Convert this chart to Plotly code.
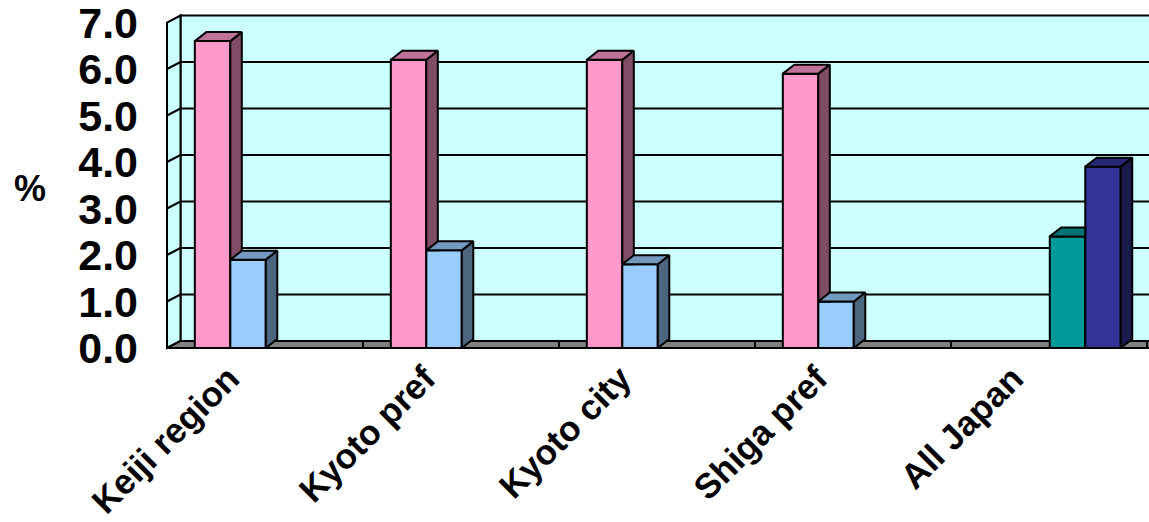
import plotly.graph_objects as go

# ---------------- data ----------------
categories = ["Keiji region", "Kyoto pref", "Kyoto city", "Shiga pref", "All Japan"]
series_names = ["Series 1", "Series 2", "Series 3", "Series 4"]
pink_vals = [6.6, 6.2, 6.2, 5.9, None]
blue_vals = [1.9, 2.1, 1.8, 1.0, None]
teal_vals = [None, None, None, None, 2.4]
navy_vals = [None, None, None, None, 3.9]
y_tick_vals = [0, 1, 2, 3, 4, 5, 6, 7]
y_tick_text = ["0.0", "1.0", "2.0", "3.0", "4.0", "5.0", "6.0", "7.0"]
y_title = "%"

series_vals = [pink_vals, blue_vals, teal_vals, navy_vals]

# ---------------- style ----------------
front_colors = ["#FF99CC", "#99CCFF", "#009999", "#333399"]
top_colors = ["#BF7399", "#7399BF", "#007373", "#262673"]
side_colors = ["#804D66", "#4D6680", "#004D4D", "#1A1A4D"]
wall_color = "#CCFFFF"
floor_color = "#808080"
edge = "black"
lw = 2

W, H = 1149, 522
ML, MR, MT, MB = 165, 0, 12, 172
PX_PER_CAT = 196.0
PX_PER_UNIT = 46.5
plot_w = W - ML - MR
plot_h = H - MT - MB
x_min = -0.5 - 2 / PX_PER_CAT
x_max = x_min + plot_w / PX_PER_CAT
y_min = -2 / PX_PER_UNIT
y_max = y_min + plot_h / PX_PER_UNIT

# depth offsets (data units)
dxw = 13.5 / PX_PER_CAT
dyw = 7.0 / PX_PER_UNIT
dxb = 11.5 / PX_PER_CAT
dyb = 9.0 / PX_PER_UNIT

bar_w = 0.181
first_off = -0.358
n_series = len(series_vals)

fig = go.Figure()

# ---------------- walls / floor / grid (shapes below traces) ----------------
shapes = []
x_left = -0.5
x_far = x_max + 1
top_v = y_tick_vals[-1]
# back wall
shapes.append(dict(type="rect", xref="x", yref="y", layer="below",
                   x0=x_left + dxw, y0=dyw, x1=x_far, y1=top_v + dyw,
                   fillcolor=wall_color, line=dict(color=edge, width=lw)))
# left wall
shapes.append(dict(type="path", xref="x", yref="y", layer="below",
                   path=f"M {x_left},0 L {x_left + dxw},{dyw} L {x_left + dxw},{top_v + dyw} L {x_left},{top_v} Z",
                   fillcolor=wall_color, line=dict(color=edge, width=lw)))
# floor
shapes.append(dict(type="path", xref="x", yref="y", layer="below",
                   path=f"M {x_left},0 L {x_far},0 L {x_far},{dyw} L {x_left + dxw},{dyw} Z",
                   fillcolor=floor_color, line=dict(color=edge, width=lw)))
# gridlines on back wall and left wall
for v in y_tick_vals[1:-1]:
    shapes.append(dict(type="line", xref="x", yref="y", layer="below",
                       x0=x_left + dxw, y0=v + dyw, x1=x_far, y1=v + dyw,
                       line=dict(color=edge, width=lw)))
    shapes.append(dict(type="line", xref="x", yref="y", layer="below",
                       x0=x_left, y0=v, x1=x_left + dxw, y1=v + dyw,
                       line=dict(color=edge, width=lw)))
# category boundary ticks on floor
for i in range(1, len(categories) + 1):
    xb = -0.5 + i
    shapes.append(dict(type="line", xref="x", yref="y", layer="below",
                       x0=xb, y0=0, x1=xb, y1=dyw,
                       line=dict(color=edge, width=lw)))

# ---------------- front faces (bars) ----------------
xs = list(range(len(categories)))
for k, vals in enumerate(series_vals):
    fig.add_trace(go.Bar(
        x=xs, y=vals, name=series_names[k],
        offset=first_off + k * bar_w, width=bar_w,
        marker=dict(color=front_colors[k], line=dict(color=edge, width=lw)),
        showlegend=False, hoverinfo="skip"))

# ---------------- top and side faces ----------------
def poly(pts, color):
    px = [p[0] for p in pts] + [pts[0][0]]
    py = [p[1] for p in pts] + [pts[0][1]]
    fig.add_trace(go.Scatter(x=px, y=py, mode="lines", fill="toself",
                             fillcolor=color, line=dict(color=edge, width=lw),
                             showlegend=False, hoverinfo="skip"))

for k, vals in enumerate(series_vals):
    for i, h in enumerate(vals):
        if h is None:
            continue
        xl = i + first_off + k * bar_w
        xr = xl + bar_w
        hn = series_vals[k + 1][i] if k + 1 < n_series else None
        # side face
        if hn is None:
            poly([(xr, 0), (xr + dxb, dyb), (xr + dxb, h + dyb), (xr, h)], side_colors[k])
        elif hn < h:
            poly([(xr, hn), (xr + dxb, hn), (xr + dxb, h + dyb), (xr, h)], side_colors[k])
        # top face
        if hn is not None and hn >= h + dyb:
            poly([(xl, h), (xr, h), (xr, h + dyb), (xl + dxb, h + dyb)], top_colors[k])
        else:
            poly([(xl, h), (xr, h), (xr + dxb, h + dyb), (xl + dxb, h + dyb)], top_colors[k])

# ---------------- layout ----------------
fig.update_layout(
    width=W, height=H,
    margin=dict(l=ML, r=MR, t=MT, b=MB, pad=0, autoexpand=False),
    paper_bgcolor="white", plot_bgcolor="white",
    barmode="overlay",
    shapes=shapes,
    font=dict(family="Arial", color="black"),
    xaxis=dict(range=[x_min, x_max], tickmode="array", tickvals=xs, ticktext=categories,
               tickangle=-45, showgrid=False, zeroline=False, showline=False,
               ticks="", tickfont=dict(size=35, family="Arial", weight="bold", color="black"),
               ticklabelstandoff=0, ticklabelshift=-36, ticklabeloverflow="allow",
               automargin=False, fixedrange=True),
    yaxis=dict(range=[y_min, y_max], tickmode="array", tickvals=y_tick_vals, ticktext=y_tick_text,
               showgrid=False, zeroline=False, showline=False, ticks="",
               tickfont=dict(size=43, family="Arial", weight="bold", color="black"),
               ticklabelstandoff=26, ticklabeloverflow="allow", automargin=False,
               fixedrange=True),
    annotations=[dict(text=y_title, xref="paper", yref="y",
                      x=(30 - ML) / plot_w, y=(H - MB - 2 - 188) / PX_PER_UNIT,
                      xanchor="center", yanchor="middle", showarrow=False,
                      font=dict(size=36, family="Arial", weight="bold", color="black"))],
)

fig.write_html("out.html")
